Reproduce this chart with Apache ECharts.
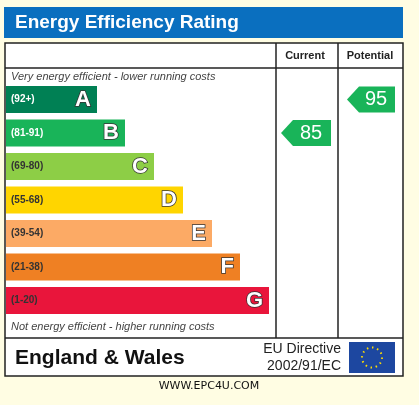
<!DOCTYPE html>
<html><head><meta charset="utf-8">
<script src="https://cdn.jsdelivr.net/npm/echarts@6/dist/echarts.min.js"></script>
<style>html,body{margin:0;background:#fffde3}</style>
</head><body>
<div id="main" style="width:419px;height:405px"></div>
<script>
var chart = echarts.init(document.getElementById('main'));
// bands, top to bottom
var letters = ['A', 'B', 'C', 'D', 'E', 'F', 'G'];
var ranges = ['(92+)', '(81-91)', '(69-80)', '(55-68)', '(39-54)', '(21-38)', '(1-20)'];
var barEnds = [97, 125, 154, 183, 212, 240, 269];
var colors = ['#008054', '#19b459', '#8dce46', '#ffd500', '#fcaa65', '#ef8023', '#e9153b'];
var currentRating = 85, currentBand = 'B';
var potentialRating = 95, potentialBand = 'A';

function arrow(x1, x2) {
    return function (params, api) {
        var c = api.coord([0, api.value(0)]);
        var h = 13;
        return {
            type: 'group', children: [
                { type: 'polygon', shape: { points: [[x1, c[1]], [x1 + 12, c[1] - h], [x2, c[1] - h], [x2, c[1] + h], [x1 + 12, c[1] + h]] }, style: { fill: '#19b459' } },
                { type: 'text', style: { text: String(api.value(1)), x: (x1 + x2) / 2 + 5, y: c[1], align: 'center', verticalAlign: 'middle', fill: '#fff', font: '20px Arial' } }
            ]
        };
    };
}
var bandColor = function (b) { return colors[letters.indexOf(b)]; };

option = {
    animation: false,
    grid: { left: 6, right: 0, top: 82.75, bottom: 87.75 },
    xAxis: { type: 'value', min: 6, max: 419, show: false },
    yAxis: { type: 'category', inverse: true, data: letters, show: false },
    graphic: [
        { type: 'rect', shape: { x: 4, y: 7, width: 399, height: 31 }, style: { fill: '#0a6fbf' } },
        { type: 'text', style: { text: 'Energy Efficiency Rating', x: 15, y: 23, verticalAlign: 'middle', fill: '#fff', font: 'bold 19px Arial' } },
        { type: 'rect', shape: { x: 5, y: 43, width: 398, height: 333 }, style: { fill: '#fff', stroke: '#222', lineWidth: 1.5 } },
        { type: 'line', shape: { x1: 5, y1: 68, x2: 403, y2: 68 }, style: { stroke: '#222', lineWidth: 1.5 } },
        { type: 'line', shape: { x1: 276, y1: 43, x2: 276, y2: 338 }, style: { stroke: '#222', lineWidth: 1.5 } },
        { type: 'line', shape: { x1: 338, y1: 43, x2: 338, y2: 338 }, style: { stroke: '#222', lineWidth: 1.5 } },
        { type: 'line', shape: { x1: 5, y1: 338, x2: 403, y2: 338 }, style: { stroke: '#222', lineWidth: 1.5 } },
        { type: 'text', style: { text: 'Current', x: 305, y: 56, align: 'center', verticalAlign: 'middle', fill: '#222', font: 'bold 11px Arial' } },
        { type: 'text', style: { text: 'Potential', x: 370, y: 56, align: 'center', verticalAlign: 'middle', fill: '#222', font: 'bold 11px Arial' } },
        { type: 'text', style: { text: 'Very energy efficient - lower running costs', x: 11, y: 77, verticalAlign: 'middle', fill: '#444', font: 'italic 11px Arial' } },
        { type: 'text', style: { text: 'Not energy efficient - higher running costs', x: 11, y: 327, verticalAlign: 'middle', fill: '#444', font: 'italic 11px Arial' } },
        { type: 'text', style: { text: 'England & Wales', x: 15, y: 358, verticalAlign: 'middle', fill: '#111', font: 'bold 21px Arial' } },
        { type: 'text', style: { text: 'EU Directive\n2002/91/EC', x: 341, y: 358, align: 'right', verticalAlign: 'middle', fill: '#222', font: '14px Arial', lineHeight: 17 } },
        { type: 'rect', shape: { x: 349, y: 342, width: 46, height: 31 }, style: { fill: '#1d47a0' } },
        { type: 'circle', shape: { cx: 372, cy: 357.5, r: 10 }, style: { fill: 'none', stroke: '#ffdd00', lineWidth: 2, lineDash: [1.5, 3.7] } },
        { type: 'text', style: { text: 'WWW.EPC4U.COM', x: 209, y: 386, align: 'center', verticalAlign: 'middle', fill: '#111', font: '11px "DejaVu Sans"' } }
    ],
    series: [
        {
            type: 'bar', barWidth: 27, data: barEnds.map(function (v, i) { return { value: v, itemStyle: { color: colors[i] } }; }),
            label: {
                show: true, position: 'insideRight', distance: 6,
                formatter: function (p) { return '{l|' + letters[p.dataIndex] + '}'; },
                rich: { l: { color: '#fff', fontSize: 22, fontWeight: 'bold', fontFamily: 'Arial', textBorderColor: '#333', textBorderWidth: 1.5 } }
            }
        },
        {
            type: 'bar', barWidth: 27, barGap: '-100%', data: barEnds.map(function (v) { return v; }),
            itemStyle: { color: 'transparent' },
            label: {
                show: true, position: 'insideLeft', distance: 5,
                formatter: function (p) { return ranges[p.dataIndex]; },
                color: '#fff', fontSize: 10, fontWeight: 'bold', fontFamily: 'Arial'
            },
            labelLayout: function (p) { return {}; }
        },
        { type: 'custom', renderItem: arrow(281, 331), data: [[letters.indexOf(currentBand), currentRating]], itemStyle: { color: bandColor(currentBand) } },
        { type: 'custom', renderItem: arrow(347, 395), data: [[letters.indexOf(potentialBand), potentialRating]] }
    ]
};
option.series[1].data = barEnds.map(function (v, i) { return { value: v, label: { color: i < 2 ? '#fff' : '#333' } }; });
chart.setOption(option);
</script>
</body></html>
